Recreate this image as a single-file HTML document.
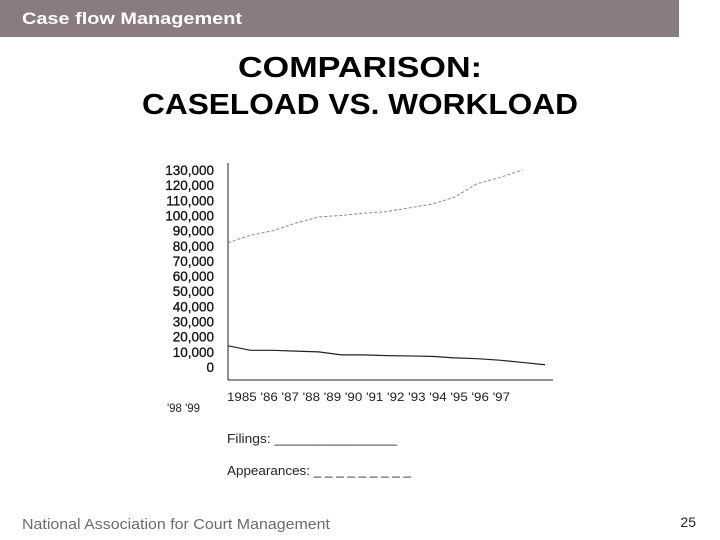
<!DOCTYPE html>
<html><head><meta charset="utf-8"><style>
body{margin:0;background:#fff;}
svg{display:block;font-family:"Liberation Sans",Arial,sans-serif;}
</style></head><body>
<svg width="720" height="540" viewBox="0 0 720 540">
<rect x="0" y="0" width="679" height="37" fill="#8a7a82"/>
<text x="22" y="24" font-size="17" font-weight="bold" fill="#fff" textLength="220" lengthAdjust="spacingAndGlyphs">Case flow Management</text>
<text x="360" y="77" font-size="29" font-weight="bold" text-anchor="middle" textLength="244" lengthAdjust="spacingAndGlyphs">COMPARISON:</text>
<text x="360" y="114" font-size="29" font-weight="bold" text-anchor="middle" textLength="436" lengthAdjust="spacingAndGlyphs">CASELOAD VS. WORKLOAD</text>
<g id="chart"></g>
<text x="167" y="412" font-size="12" fill="#222" textLength="33" lengthAdjust="spacingAndGlyphs">'98 '99</text>
<text x="227" y="443" font-size="13" fill="#222" textLength="170" lengthAdjust="spacingAndGlyphs">Filings: ________________</text>
<text x="227" y="475" font-size="13" fill="#222" textLength="184" lengthAdjust="spacingAndGlyphs">Appearances:  _ _ _ _ _ _ _ _ _</text>
<text x="22" y="529" font-size="15" fill="#6b6b6b" textLength="308" lengthAdjust="spacingAndGlyphs">National Association for Court Management</text>
<text x="696" y="527" font-size="14" fill="#222" text-anchor="end">25</text>
</svg>
<script>
const years=['1985',"'86","'87","'88","'89","'90","'91","'92","'93","'94","'95","'96","'97","'98","'99"];
const yTicks=[0,10000,20000,30000,40000,50000,60000,70000,80000,90000,100000,110000,120000,130000];
const appearances=[82000,87000,90000,95000,99000,100000,101500,102500,105000,107500,112000,121000,125000,130000];
const filings=[14000,11000,11000,10500,10000,8000,8000,7500,7300,7000,6000,5500,4500,3000,1500];
const NS='http://www.w3.org/2000/svg';
const g=document.getElementById('chart');
const x0=228,x1=545,y0=367,y1=170;
const xs=i=>x0+(x1-x0)*i/(years.length-1);
const ys=v=>y0-(y0-y1)*v/130000;
function mk(t,a){const e=document.createElementNS(NS,t);for(const k in a)e.setAttribute(k,a[k]);g.appendChild(e);return e;}
let e=mk('line',{x1:228,y1:163,x2:228,y2:380,stroke:'#222','stroke-width':1});


e=mk('line',{x1:228,y1:380,x2:553,y2:380,stroke:'#222','stroke-width':1});


yTicks.forEach(v=>{const t=mk('text',{x:214,y:ys(v)+5,'font-size':13.5,'text-anchor':'end',fill:'#111',stroke:'#111','stroke-width':0.3});t.textContent=v.toLocaleString('en-US');

});
const xl=mk('text',{x:227,y:401,'font-size':12,fill:'#222',textLength:283,lengthAdjust:'spacingAndGlyphs'});
xl.textContent=years.slice(0,13).join('  ');


const pa=mk('polyline',{points:appearances.map((v,i)=>xs(i)+','+ys(v)).join(' '),fill:'none',stroke:'#888','stroke-width':1,'stroke-dasharray':'3,2'});


const pf=mk('polyline',{points:filings.map((v,i)=>xs(i)+','+ys(v)).join(' '),fill:'none',stroke:'#222','stroke-width':1.2});


</script>
</body></html>
